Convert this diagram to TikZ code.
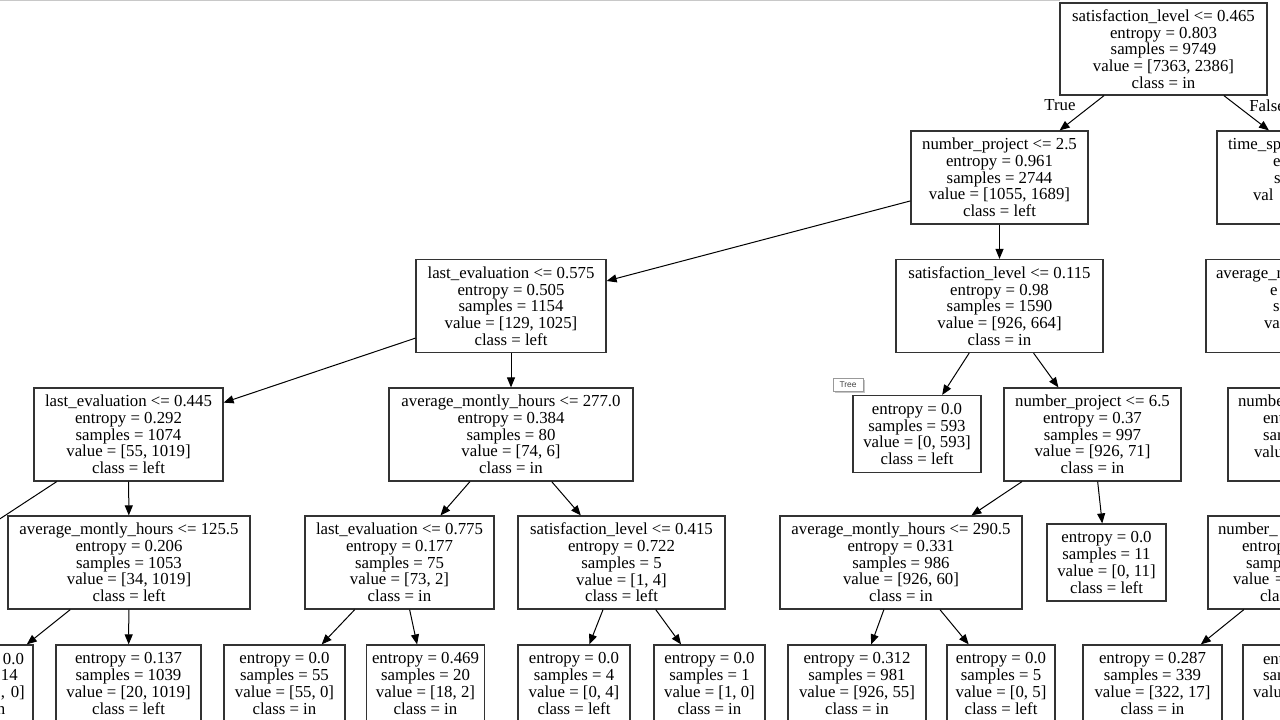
\documentclass[tikz,border=0pt]{standalone}
\usepackage{fontspec}
\setmainfont{Liberation Serif}
\newfontfamily\tipfont{Liberation Sans}
\usetikzlibrary{arrows.meta,shadows}
\definecolor{boxc}{HTML}{333333}
\definecolor{topline}{HTML}{C8C8C8}
\definecolor{tipc}{HTML}{444444}
\tikzset{
  tn/.style={draw=boxc, line width=0.9pt, inner sep=0pt, align=center,
    font=\fontsize{12.6}{12.56}\selectfont, fill=white},
  cut/.style={tn, align=left, inner xsep=0pt},
  inner5/.style={minimum height=69.75pt},
  leaf4/.style={minimum height=57.75pt},
  edge/.style={draw=black, line width=0.75pt, -{Triangle[length=7.5pt,width=6pt]}},
  lbl/.style={font=\fontsize{12.6}{12.56}\selectfont, inner sep=0pt},
}
\begin{document}
\begin{tikzpicture}[x=0.75pt,y=-0.75pt]
\useasboundingbox (0,0) rectangle (1280,720);
\clip (0,0) rectangle (1280,720);
\fill[white] (0,0) rectangle (1280,720);
\draw[topline, line width=1pt] (0,0.7) -- (1060,0.7);

% level 0
\node[tn, minimum width=155.25pt, minimum height=69pt] (root) at (1163.5,49)
  {satisfaction\_level <= 0.465\\ entropy = 0.803\\ samples = 9749\\ value = [7363, 2386]\\ class = in};
% level 1
\node[tn, inner5, minimum width=132.75pt] (A) at (999.5,177.5)
  {number\_project <= 2.5\\ entropy = 0.961\\ samples = 2744\\ value = [1055, 1689]\\ class = left};
\node[cut, inner5, text width=169.5pt] (R) at (1330,177.5)
  {\hspace*{8.25pt}\vphantom{l}time\_sp\\ \hspace*{42pt}e\\ \hspace*{42.75pt}s\\ \hspace*{27pt}val\\ \vphantom{l}};
% level 2
\node[tn, inner5, minimum width=142.5pt] (B) at (511,306)
  {last\_evaluation <= 0.575\\ entropy = 0.505\\ samples = 1154\\ value = [129, 1025]\\ class = left};
\node[tn, inner5, minimum width=155.25pt] (C) at (999.5,306)
  {satisfaction\_level <= 0.115\\ entropy = 0.98\\ samples = 1590\\ value = [926, 664]\\ class = in};
\node[cut, inner5, text width=186pt] (R2) at (1330,306)
  {\hspace*{7.5pt}\vphantom{l}average\_m\\ \hspace*{48pt}e\\ \hspace*{50.25pt}s\\ \hspace*{43.5pt}va\\ \vphantom{l}};
% level 3
\node[tn, inner5, minimum width=141.75pt] (D) at (128.5,434.5)
  {last\_evaluation <= 0.445\\ entropy = 0.292\\ samples = 1074\\ value = [55, 1019]\\ class = left};
\node[tn, inner5, minimum width=183pt] (E) at (511,434.5)
  {average\_montly\_hours <= 277.0\\ entropy = 0.384\\ samples = 80\\ value = [74, 6]\\ class = in};
\node[tn, leaf4, minimum width=96pt] (F) at (917,434)
  {entropy = 0.0\\ samples = 593\\ value = [0, 593]\\ class = left};
\node[tn, inner5, minimum width=132.75pt] (G) at (1092.5,434.5)
  {number\_project <= 6.5\\ entropy = 0.37\\ samples = 997\\ value = [926, 71]\\ class = in};
\node[cut, inner5, text width=153pt] (R3) at (1330,434.5)
  {\hspace*{7.5pt}\vphantom{l}numbe\\ \hspace*{26.25pt}ent\\ \hspace*{26.25pt}sam\\ \hspace*{19.5pt}valu\\ \vphantom{l}};
\coordinate (Dl) at (-40,545);
% level 4
\node[tn, inner5, minimum width=181.5pt] (H) at (129,562.5)
  {average\_montly\_hours <= 125.5\\ entropy = 0.206\\ samples = 1053\\ value = [34, 1019]\\ class = left};
\node[tn, inner5, minimum width=141.75pt] (I) at (399.5,562.5)
  {last\_evaluation <= 0.775\\ entropy = 0.177\\ samples = 75\\ value = [73, 2]\\ class = in};
\node[tn, inner5, minimum width=155.25pt] (J) at (621.5,562.5)
  {satisfaction\_level <= 0.415\\ entropy = 0.722\\ samples = 5\\ value = [1, 4]\\ class = left};
\node[tn, inner5, minimum width=181.5pt] (K) at (901,562.5)
  {average\_montly\_hours <= 290.5\\ entropy = 0.331\\ samples = 986\\ value = [926, 60]\\ class = in};
\node[tn, leaf4, minimum width=89.25pt] (L) at (1106.5,562.5)
  {entropy = 0.0\\ samples = 11\\ value = [0, 11]\\ class = left};
\node[cut, inner5, text width=141pt] (R4) at (1302,562.5)
  {\hspace*{7.5pt}\vphantom{l}number\_\\ \hspace*{25.5pt}entrop\\ \hspace*{28.5pt}samp\\ \hspace*{18.75pt}value =\\ \hspace*{39pt}cla};
% level 5
\node[cut, leaf4, text width=82.5pt] (M) at (-22,683.5)
  {\hspace*{60pt}\vphantom{l}0.0\\ \hspace*{58.5pt}14\\ \hspace*{58.5pt}, 0]\\ \hspace*{55.5pt}n};
\node[tn, leaf4, minimum width=108.75pt] (N) at (128.5,683.5)
  {entropy = 0.137\\ samples = 1039\\ value = [20, 1019]\\ class = left};
\node[tn, leaf4, minimum width=90.75pt] (O) at (284.5,683.5)
  {entropy = 0.0\\ samples = 55\\ value = [55, 0]\\ class = in};
\node[tn, leaf4, minimum width=88.5pt] (P) at (425.5,683.5)
  {entropy = 0.469\\ samples = 20\\ value = [18, 2]\\ class = in};
\node[tn, leaf4, minimum width=84pt] (Q) at (574,683.5)
  {entropy = 0.0\\ samples = 4\\ value = [0, 4]\\ class = left};
\node[tn, leaf4, minimum width=83.25pt] (S) at (709.5,683.5)
  {entropy = 0.0\\ samples = 1\\ value = [1, 0]\\ class = in};
\node[tn, leaf4, minimum width=103.5pt] (T) at (857,683.5)
  {entropy = 0.312\\ samples = 981\\ value = [926, 55]\\ class = in};
\node[tn, leaf4, minimum width=81pt] (U) at (1001,683.5)
  {entropy = 0.0\\ samples = 5\\ value = [0, 5]\\ class = left};
\node[tn, leaf4, minimum width=104.25pt] (V) at (1152.5,683.5)
  {entropy = 0.287\\ samples = 339\\ value = [322, 17]\\ class = in};
\node[cut, leaf4, text width=85.5pt] (W) at (1300,683.5)
  {\hspace*{15pt}\vphantom{l}ent\\ \hspace*{15pt}sam\\ \hspace*{7.5pt}valu\\ \vphantom{l}};

% tooltip
\node[draw=gray!80, fill=white, drop shadow={shadow xshift=1.2pt, shadow yshift=-1.2pt, fill=gray!45, opacity=1},
  font=\tipfont\fontsize{6.3}{7}\selectfont, text=tipc, inner sep=0pt,
  minimum width=22.5pt, minimum height=9.75pt] (tip) at (848,384.5) {Tree};

% edge labels
\node[lbl] (lblT) at (1060,105.5) {True};
\node[lbl, anchor=west] (lblF) at (1249,105.5) {False};

% connectors
\draw[edge] (root) -- (A);
\draw[edge] (root) -- (R);
\draw[edge] (A) -- (B);
\draw[edge] (A) -- (C);
\draw[edge] (B) -- (D);
\draw[edge] (B) -- (E);
\draw[edge] (C) -- (F);
\draw[edge] (C) -- (G);
\draw[edge] (D) -- (Dl);
\draw[edge] (D) -- (H);
\draw[edge] (E) -- (I);
\draw[edge] (E) -- (J);
\draw[edge] (G) -- (K);
\draw[edge] (G) -- (L);
\draw[edge] (H) -- (M);
\draw[edge] (H) -- (N);
\draw[edge] (I) -- (O);
\draw[edge] (I) -- (P);
\draw[edge] (J) -- (Q);
\draw[edge] (J) -- (S);
\draw[edge] (K) -- (T);
\draw[edge] (K) -- (U);
\draw[edge] (R4) -- (V);
\end{tikzpicture}
\end{document}
